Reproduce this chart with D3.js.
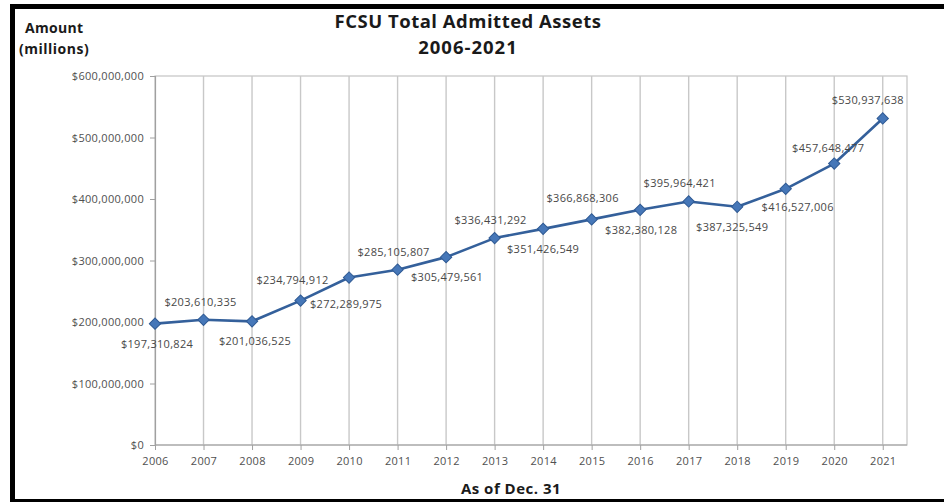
<!DOCTYPE html>
<html>

<head>
  <meta charset="utf-8" />
  <title>FCSU Total Admitted Assets</title>
  <style>
    body {
      margin: 0;
      background: #fff;
    }

    svg text {
      font-family: "Open Sans", sans-serif;
    }

    .tick-label {
      font-size: 11px;
      letter-spacing: 0.3px;
      fill: #505050;
    }

    .point-label {
      font-size: 11px;
      letter-spacing: 0.3px;
      fill: #484848;
    }

    .bold {
      font-weight: bold;
      fill: #1a1a1a;
    }
  </style>
</head>

<body>
  <svg id="chart" width="944" height="502"></svg>

  <script src="https://d3js.org/d3.v7.min.js"></script>
  <script>
    // data
    const years = [2006, 2007, 2008, 2009, 2010, 2011, 2012, 2013, 2014, 2015, 2016, 2017, 2018, 2019, 2020, 2021]
    const assets = [197310824, 203610335, 201036525, 234794912, 272289975, 285105807, 305479561, 336431292,
      351426549, 366868306, 382380128, 395964421, 387325549, 416527006, 457648477, 530937638]
    const yTicks = [0, 100000000, 200000000, 300000000, 400000000, 500000000, 600000000]

    const width = 944
    const height = 502

    const plot = { left: 155, right: 907, top: 76, bottom: 445 }

    const svg = d3.select('#chart')

    const x = d3.scaleLinear()
      .domain([years[0], years[years.length - 1] + 0.5])
      .range([plot.left, plot.right])

    const y = d3.scaleLinear()
      .domain([0, 600000000])
      .range([plot.bottom, plot.top])

    const money = d3.format('$,')

    // frame (left, top, bottom bars)
    svg.append('rect').attr('x', 10).attr('y', 4).attr('width', 5).attr('height', height - 4).attr('fill', '#000')
    svg.append('rect').attr('x', 10).attr('y', 4).attr('width', width - 10).attr('height', 5).attr('fill', '#000')
    svg.append('rect').attr('x', 10).attr('y', 499).attr('width', width - 10).attr('height', 3).attr('fill', '#000')

    // plot area box
    svg.append('rect')
      .attr('x', plot.left).attr('y', plot.top)
      .attr('width', plot.right - plot.left).attr('height', plot.bottom - plot.top)
      .attr('fill', 'none').attr('stroke', '#c4c4c4').attr('stroke-width', 1.2)

    // vertical gridlines
    svg.append('g')
      .selectAll('line')
      .data(years.slice(1))
      .join('line')
      .attr('x1', d => x(d)).attr('x2', d => x(d))
      .attr('y1', plot.top).attr('y2', plot.bottom)
      .attr('stroke', '#c8c8c8').attr('stroke-width', 1.4)

    // y axis
    const yAxis = svg.append('g')
      .attr('transform', `translate(${plot.left},0)`)
      .call(d3.axisLeft(y).tickValues(yTicks).tickFormat(money).tickSize(5).tickPadding(6))
    yAxis.select('.domain').attr('stroke', '#a0a0a0').attr('stroke-width', 1.2)
    yAxis.selectAll('.tick line').attr('stroke', '#a0a0a0')
    yAxis.selectAll('.tick text').attr('class', 'tick-label')
    yAxis.attr('font-family', null).attr('font-size', null)

    // x axis
    const xAxis = svg.append('g')
      .attr('transform', `translate(0,${plot.bottom})`)
      .call(d3.axisBottom(x).tickValues(years).tickFormat(d3.format('d')).tickSize(5).tickPadding(7).tickSizeOuter(0))
    xAxis.select('.domain').attr('stroke', '#a0a0a0').attr('stroke-width', 1.2)
      .attr('d', `M${plot.left},0H${plot.right}`)
    xAxis.selectAll('.tick line').attr('stroke', '#a0a0a0')
    xAxis.selectAll('.tick text').attr('class', 'tick-label')
    xAxis.attr('font-family', null).attr('font-size', null)

    // line
    const line = d3.line()
      .x((d, i) => x(years[i]))
      .y(d => y(d))

    svg.append('path')
      .datum(assets)
      .attr('d', line)
      .attr('fill', 'none')
      .attr('stroke', '#34609b')
      .attr('stroke-width', 2.6)
      .attr('stroke-linejoin', 'round')

    // diamond markers
    svg.append('g')
      .selectAll('path')
      .data(assets)
      .join('path')
      .attr('d', d3.symbol(d3.symbolSquare, 64))
      .attr('transform', (d, i) => `translate(${x(years[i])},${y(d)}) rotate(45)`)
      .attr('fill', '#4677b8')
      .attr('stroke', '#2f5a94')
      .attr('stroke-width', 1)

    // point labels, placed above or below each marker as in the original
    const labelSide = ['b', 'a', 'b', 'a', 'b', 'a', 'b', 'a', 'b', 'a', 'b', 'a', 'b', 'b', 'a', 'a']
    const labelNudge = [2, -3, 3, -8, -3, -4, 1, -4, 0, -9, 1, -9, -5, 12, -6, -15]
    const labelDrop = [0, 0, 0, -3, 6, 0, 0, 0, 0, -3, 0, 0, 0, -2, 2, 0]

    svg.append('g')
      .selectAll('text')
      .data(assets)
      .join('text')
      .attr('class', 'point-label')
      .attr('x', (d, i) => x(years[i]) + labelNudge[i])
      .attr('y', (d, i) => y(d) + (labelSide[i] === 'a' ? -14 : 24) + labelDrop[i])
      .attr('text-anchor', 'middle')
      .text(d => money(d))

    // titles
    svg.append('text').attr('class', 'bold')
      .attr('x', 468).attr('y', 28).attr('text-anchor', 'middle')
      .attr('font-size', 18.5).attr('letter-spacing', 0.5)
      .text('FCSU Total Admitted Assets')
    svg.append('text').attr('class', 'bold')
      .attr('x', 468).attr('y', 54).attr('text-anchor', 'middle')
      .attr('font-size', 18.5).attr('letter-spacing', 1)
      .text('2006-2021')

    svg.append('text').attr('class', 'bold')
      .attr('x', 25).attr('y', 33).attr('font-size', 14).attr('letter-spacing', 0.3)
      .text('Amount')
    svg.append('text').attr('class', 'bold')
      .attr('x', 19).attr('y', 54).attr('font-size', 14).attr('letter-spacing', 0.5)
      .text('(millions)')

    svg.append('text').attr('class', 'bold')
      .attr('x', 511).attr('y', 494).attr('text-anchor', 'middle')
      .attr('font-size', 15).attr('letter-spacing', 0.5)
      .text('As of Dec. 31')
  </script>
</body>

</html>
